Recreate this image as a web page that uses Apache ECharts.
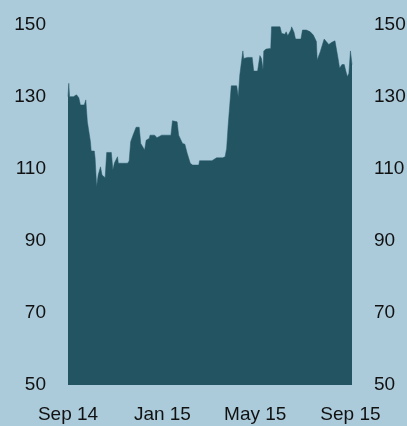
<!DOCTYPE html>
<html>
<head>
<meta charset="utf-8">
<script src="https://cdn.jsdelivr.net/npm/echarts@6/dist/echarts.min.js"></script>
<style>
html, body { margin: 0; padding: 0; background: #abcbdb; }
#main { width: 407px; height: 426px; }
</style>
</head>
<body>
<div id="main"></div>
<script>
// 日期与数值
var dates = [
    '2014-09-01', '2014-09-02', '2014-09-03', '2014-09-08', '2014-09-10', '2014-09-12', '2014-09-15',
    '2014-09-17', '2014-09-22', '2014-09-24', '2014-09-26', '2014-09-30', '2014-10-01', '2014-10-05',
    '2014-10-06', '2014-10-08', '2014-10-10', '2014-10-13', '2014-10-15', '2014-10-19', '2014-10-21',
    '2014-10-27', '2014-10-29', '2014-10-31', '2014-11-04', '2014-11-05', '2014-11-17', '2014-11-19',
    '2014-11-21', '2014-11-24', '2014-11-28', '2014-12-02', '2014-12-04', '2014-12-06', '2014-12-09',
    '2014-12-11', '2014-12-15', '2014-12-16', '2014-12-22', '2014-12-25', '2014-12-31', '2015-01-12',
    '2015-01-14', '2015-01-20', '2015-01-22', '2015-01-27', '2015-01-30', '2015-02-02', '2015-02-06',
    '2015-02-09', '2015-02-17', '2015-02-18', '2015-03-06', '2015-03-12', '2015-03-20', '2015-03-23',
    '2015-03-25', '2015-03-27', '2015-03-31', '2015-04-07', '2015-04-09', '2015-04-11', '2015-04-14',
    '2015-04-15', '2015-04-16', '2015-04-21', '2015-04-27', '2015-04-29', '2015-05-04', '2015-05-07',
    '2015-05-09', '2015-05-11', '2015-05-12', '2015-05-15', '2015-05-21', '2015-05-22', '2015-06-02',
    '2015-06-04', '2015-06-08', '2015-06-10', '2015-06-12', '2015-06-16', '2015-06-17', '2015-06-20',
    '2015-06-22', '2015-06-29', '2015-07-01', '2015-07-06', '2015-07-11', '2015-07-15', '2015-07-19',
    '2015-07-20', '2015-07-24', '2015-07-26', '2015-07-29', '2015-07-31', '2015-08-04', '2015-08-08',
    '2015-08-12', '2015-08-14', '2015-08-16', '2015-08-18', '2015-08-21', '2015-08-24', '2015-08-26',
    '2015-08-28', '2015-08-30', '2015-09-01', '2015-09-03'
];
var values = [
    130.1, 133.8, 130.1, 130.1, 130.6, 130.6, 129.8,
    127.8, 127.8, 129.2, 123.1, 117.6, 115.0, 115.0,
    113.1, 105.1, 108.3, 110.6, 108.3, 107.6, 114.6,
    114.6, 109.7, 111.7, 113.4, 111.6, 111.6, 112.2,
    117.6, 119.4, 121.6, 121.6, 117.1, 117.1, 115.3,
    118.0, 118.5, 119.4, 119.4, 118.7, 119.4, 119.4,
    123.4, 123.1, 119.4, 117.1, 116.9, 114.4, 111.6,
    111.1, 111.1, 112.3, 112.3, 113.1, 113.1, 113.4,
    115.7, 122.2, 133.1, 133.1, 130.1, 136.1, 141.2,
    142.8, 140.7, 141.0, 141.0, 137.2, 137.2, 141.5,
    140.7, 137.5, 142.8, 143.3, 143.5, 149.5, 149.5,
    147.7, 147.4, 148.1, 147.0, 148.6, 149.5, 148.0,
    146.1, 146.1, 148.6, 148.6, 148.1, 147.2, 145.4,
    140.3, 142.6, 142.6, 146.1, 146.0, 144.6, 145.2,
    145.6, 146.1, 140.7, 138.0, 139.0, 139.0, 137.2,
    135.6, 136.6, 142.8, 139.0
];
// x轴刻度 (月份)
var tickDates = ['2014-09-01', '2015-01-01', '2015-05-01', '2015-09-01'];
var xMin = '2014-09-01', xMax = '2015-09-03';
var monthNames = ['Jan', 'Feb', 'Mar', 'Apr', 'May', 'Jun', 'Jul', 'Aug', 'Sep', 'Oct', 'Nov', 'Dec'];

// 统一按 UTC 解析日期
function ts(s) {
    var p = s.split('-');
    return Date.UTC(+p[0], +p[1] - 1, +p[2]);
}
var seriesData = dates.map(function (d, i) {
    return [ts(d), values[i]];
});

var labelStyle = { color: '#111', fontSize: 19, fontFamily: '"Liberation Sans", Arial, sans-serif' };

function yAxisOpt(pos) {
    return {
        type: 'value',
        position: pos,
        min: 50,
        max: 150,
        interval: 20,
        axisLine: { show: false },
        axisTick: { show: false },
        splitLine: { show: false },
        axisLabel: Object.assign({ margin: 22 }, labelStyle)
    };
}

var myChart = echarts.init(document.getElementById('main'));
var option = {
    backgroundColor: '#abcbdb',
    animation: false,
    grid: { left: 68, right: 55, top: 25, bottom: 41, outerBoundsMode: 'none' },
    xAxis: {
        type: 'value',
        min: ts(xMin),
        max: ts(xMax),
        axisLine: { show: false },
        axisTick: { show: false },
        splitLine: { show: false },
        axisLabel: Object.assign({
            margin: 20,
            customValues: tickDates.map(ts),
            formatter: function (v) {
                var d = new Date(v);
                return monthNames[d.getUTCMonth()] + ' ' + String(d.getUTCFullYear()).slice(2);
            }
        }, labelStyle)
    },
    yAxis: [yAxisOpt('left'), yAxisOpt('right')],
    series: [{
        type: 'line',
        data: seriesData,
        showSymbol: false,
        symbol: 'none',
        lineStyle: { width: 0.5, color: '#235462' },
        areaStyle: { color: '#235462', opacity: 1 }
    }]
};
myChart.setOption(option);
</script>
</body>
</html>
